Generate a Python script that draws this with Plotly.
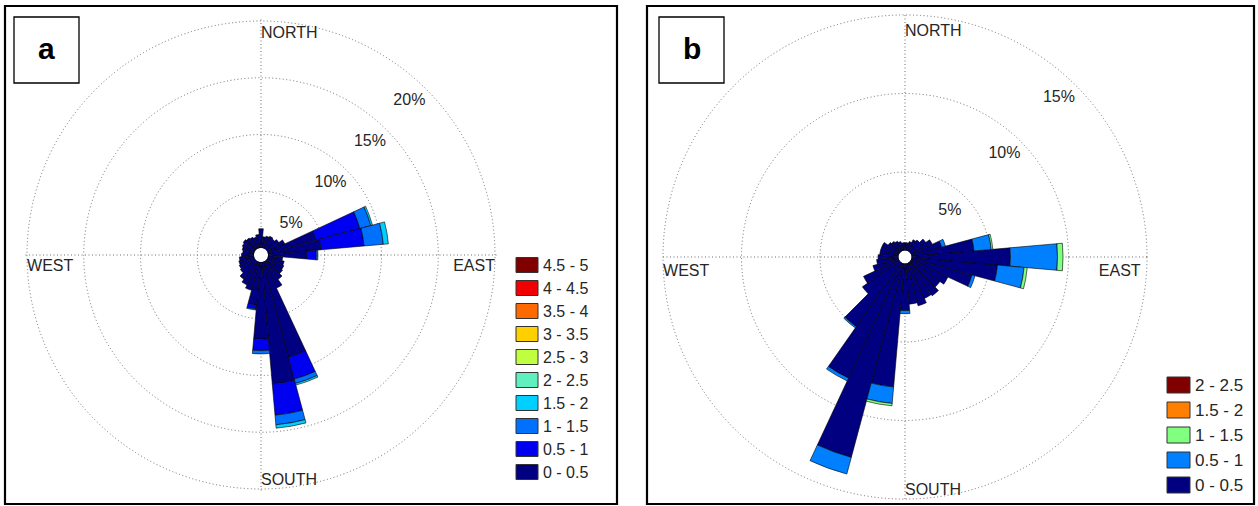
import plotly.graph_objects as go

W, H = 1258, 506

# ---------------- data ----------------
directions = [0, 10, 20, 30, 40, 50, 60, 70, 80, 90, 100, 110, 120, 130, 140, 150, 160, 170,
              180, 190, 200, 210, 220, 230, 240, 250, 260, 270, 280, 290, 300, 310, 320, 330, 340, 350]

# panel a : frequency (%) per direction sector, per speed bin
bins_a = ["0 - 0.5", "0.5 - 1", "1 - 1.5", "1.5 - 2", "2 - 2.5",
          "2.5 - 3", "3 - 3.5", "3.5 - 4", "4 - 4.5", "4.5 - 5"]
colors_a = ["#000080", "#0000F0", "#0070FF", "#00D0FF", "#60F0C0",
            "#C0FF40", "#FFD000", "#FF6A00", "#F00000", "#800000"]
a_0_05 = [1.7, 1.0, 1.1, 1.2, 1.1, 1.3, 1.7, 4.4, 4.7, 3.4, 1.3, 1.5, 1.6, 1.7, 2.0, 2.6, 8.7, 10.8,
          6.8, 3.8, 2.6, 2.3, 2.0, 1.6, 1.5, 1.4, 1.3, 1.1, 1.0, 1.1, 1.2, 1.3, 1.2, 1.1, 1.0, 1.2]
a_05_1 = [0, 0, 0, 0, 0, 0, 0, 4.0, 3.8, 0.85, 0, 0, 0, 0, 0, 0, 2.0, 2.75,
          1.0, 0.35, 0, 0, 0, 0, 0, 0, 0, 0, 0, 0, 0, 0, 0, 0, 0, 0]
a_1_15 = [0, 0, 0, 0, 0, 0, 0, 1.0, 1.7, 0.15, 0, 0, 0, 0, 0, 0, 0.4, 0.85,
          0.3, 0.1, 0, 0, 0, 0, 0, 0, 0, 0, 0, 0, 0, 0, 0, 0, 0, 0]
a_15_2 = [0, 0, 0, 0, 0, 0, 0, 0.15, 0.45, 0, 0, 0, 0, 0, 0, 0, 0.15, 0.3,
          0, 0, 0, 0, 0, 0, 0, 0, 0, 0, 0, 0, 0, 0, 0, 0, 0, 0]
series_a = [a_0_05, a_05_1, a_1_15, a_15_2]

# panel b
bins_b = ["0 - 0.5", "0.5 - 1", "1 - 1.5", "1.5 - 2", "2 - 2.5"]
colors_b = ["#000080", "#0080FF", "#80FF80", "#FF8000", "#800000"]
b_0_05 = [0.5, 0.5, 0.6, 0.8, 0.9, 1.2, 1.5, 2.0, 4.0, 6.3, 5.5, 4.0, 2.6, 2.3, 2.6, 2.5, 2.8, 2.6,
          3.0, 7.9, 12.8, 8.1, 5.0, 2.9, 2.5, 1.7, 1.4, 1.3, 1.2, 1.2, 1.2, 0.9, 0.8, 0.7, 0.6, 0.5]
b_05_1 = [0, 0, 0, 0, 0, 0, 0, 0.25, 1.1, 3.0, 1.7, 0.2, 0, 0, 0, 0, 0, 0,
          0.2, 1.05, 1.1, 0.2, 0.1, 0, 0, 0, 0, 0, 0, 0, 0, 0, 0, 0, 0, 0]
b_1_15 = [0, 0, 0, 0, 0, 0, 0, 0, 0.1, 0.35, 0.2, 0, 0, 0, 0, 0, 0, 0,
          0, 0.15, 0, 0, 0, 0, 0, 0, 0, 0, 0, 0, 0, 0, 0, 0, 0, 0]
series_b = [b_0_05, b_05_1, b_1_15]

ticks_a = [5, 10, 15, 20]
ticks_b = [5, 10, 15]
compass = ["NORTH", "EAST", "SOUTH", "WEST"]

# ---------------- figure ----------------
fig = go.Figure()

def add_rose(series, colors, labels, polar):
    for vals, col, lab in zip(series, colors, labels):
        fig.add_trace(go.Barpolar(
            r=vals, theta=directions, width=[10] * len(directions),
            marker=dict(color=col, line=dict(color="#000000", width=0.6)),
            name=lab, subplot=polar, showlegend=False, hoverinfo="skip"))

add_rose(series_a, colors_a, bins_a, "polar")
add_rose(series_b, colors_b, bins_b, "polar2")

TXT = "#262626"
FONT = "Liberation Sans, Arial, sans-serif"

def add_labels(polar, ticks, lab_off, comp_r, comp_theta):
    # percentage labels along NE direction
    fig.add_trace(go.Scatterpolar(
        r=[t - lab_off for t in ticks], theta=[44] * len(ticks), mode="text",
        text=[f"{t}%" for t in ticks], textposition="middle center",
        textfont=dict(size=16, color=TXT, family=FONT),
        subplot=polar, showlegend=False, hoverinfo="skip"))
    pos = {"NORTH": "bottom right", "EAST": "bottom left", "SOUTH": "top right", "WEST": "bottom right"}
    for name, rr, th in zip(compass, comp_r, comp_theta):
        fig.add_trace(go.Scatterpolar(
            r=[rr], theta=[th], mode="text", text=[name], textposition=pos[name],
            textfont=dict(size=16, color=TXT, family=FONT),
            subplot=polar, showlegend=False, hoverinfo="skip"))

add_labels("polar", ticks_a, 1.8, [19.55, 20.0, 20.0, 20.0], [0, 91.0, 180, 269.0])
add_labels("polar2", ticks_b, 1.3, [14.45, 14.6, 15.0, 15.0], [0, 91.6, 180, 268.4])

def px(x):
    return x / W

def py(y):
    return 1 - y / H

GRID = dict(gridcolor="#6e6e6e", griddash="1px,2.5px", gridwidth=1.3)
EXT = 1.01  # small range extension so the outermost ring is drawn

def polar_layout(cx, cy, r0, rm, rmax, ticks):
    R = r0 + (rm - r0) * EXT
    return dict(
        domain=dict(x=[px(cx - R), px(cx + R)], y=[py(cy + R), py(cy - R)]),
        hole=r0 / R, bgcolor="white", barmode="stack",
        radialaxis=dict(range=[0, rmax * EXT], tickvals=ticks, showticklabels=False, ticks="",
                        showline=False, showgrid=True, layer="below traces", **GRID),
        angularaxis=dict(rotation=90, direction="clockwise", tickvals=[0, 90, 180, 270],
                         showticklabels=False, ticks="", showline=False, showgrid=True,
                         layer="below traces", **GRID),
    )

shapes = []
annotations = []

# panel frames
for x0, x1 in [(5, 617), (647, 1254)]:
    shapes.append(dict(type="rect", xref="paper", yref="paper", x0=px(x0), x1=px(x1),
                       y0=py(504), y1=py(6), line=dict(color="black", width=2.2)))

# panel letters
for letter, x0 in [("a", 14), ("b", 659)]:
    shapes.append(dict(type="rect", xref="paper", yref="paper", x0=px(x0), x1=px(x0 + 65),
                       y0=py(83), y1=py(17), line=dict(color="black", width=1.3)))
    annotations.append(dict(text=f"<b>{letter}</b>", xref="paper", yref="paper",
                            x=px(x0 + 32.5), y=py(48), showarrow=False,
                            font=dict(size=30, color="black", family="Liberation Sans, Arial"),
                            xanchor="center", yanchor="middle"))

# legends
def add_legend(labels, colors, sx0, sx1, y_top, step, h, fsize):
    n = len(labels)
    for k in range(n):
        i = n - 1 - k
        yc = y_top + k * step
        shapes.append(dict(type="rect", xref="paper", yref="paper", x0=px(sx0), x1=px(sx1),
                           y0=py(yc + h / 2), y1=py(yc - h / 2), fillcolor=colors[i],
                           line=dict(color="#333333", width=1)))
        annotations.append(dict(text=labels[i], xref="paper", yref="paper", x=px(sx1 + 3),
                                y=py(yc), showarrow=False, xanchor="left", yanchor="middle",
                                font=dict(size=fsize, color=TXT, family=FONT)))

add_legend(bins_a, colors_a, 516, 538, 265, 23, 15, 16)
add_legend(bins_b, colors_b, 1167, 1190, 385, 25, 16, 17)

fig.update_layout(
    width=W, height=H, margin=dict(l=0, r=0, t=0, b=0),
    paper_bgcolor="white", plot_bgcolor="white",
    polar=polar_layout(261, 255, 7, 234, 20, ticks_a),
    polar2=polar_layout(905, 257, 6.5, 242, 15, ticks_b),
    shapes=shapes, annotations=annotations, showlegend=False,
)

fig.write_html("out.html", config={"displayModeBar": False},
               post_script="document.body.style.margin='0px';")
